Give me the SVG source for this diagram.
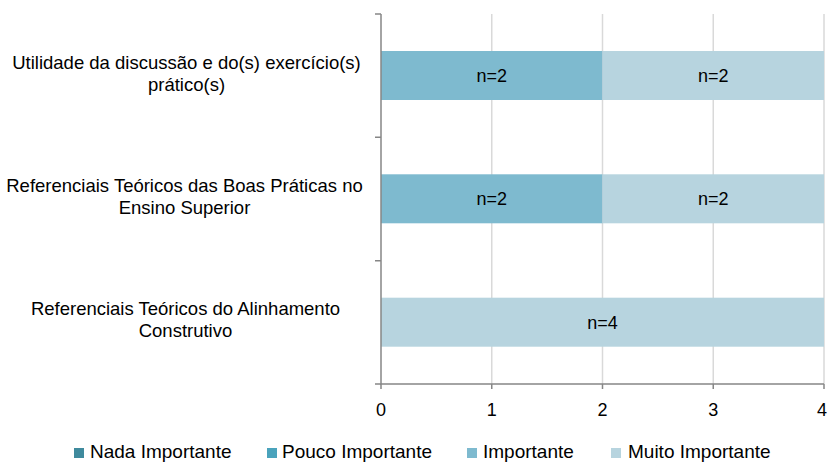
<svg xmlns="http://www.w3.org/2000/svg" width="828" height="462" viewBox="0 0 828 462">
<style>
text{font-family:"Liberation Sans",Arial,sans-serif;font-size:18px;fill:#000}
.c{text-anchor:middle}
.cat{font-size:18.5px}
.leg{font-size:19px}
.grid{stroke:#D9D9D9;stroke-width:1.5}
.axis{stroke:#868686;stroke-width:1.5;fill:none}
.imp{fill:#7EBACF}
.muito{fill:#B7D4DF}
</style>
<rect width="828" height="462" fill="#fff"/>
<g id="gridlines">
<line class="grid" x1="491.75" y1="14" x2="491.75" y2="384"/>
<line class="grid" x1="602.5" y1="14" x2="602.5" y2="384"/>
<line class="grid" x1="713.25" y1="14" x2="713.25" y2="384"/>
<line class="grid" x1="824" y1="14" x2="824" y2="384"/>
</g>
<g id="bars">
<g id="bar-utilidade">
<rect class="imp" x="381" y="51" width="221.5" height="49"/>
<rect class="muito" x="602.5" y="51" width="221.5" height="49"/>
<text class="c" x="491.75" y="82">n=2</text>
<text class="c" x="713.25" y="82">n=2</text>
</g>
<g id="bar-boas-praticas">
<rect class="imp" x="381" y="174.3" width="221.5" height="49"/>
<rect class="muito" x="602.5" y="174.3" width="221.5" height="49"/>
<text class="c" x="491.75" y="205.3">n=2</text>
<text class="c" x="713.25" y="205.3">n=2</text>
</g>
<g id="bar-alinhamento">
<rect class="muito" x="381" y="297.7" width="443" height="49"/>
<text class="c" x="602.5" y="328.7">n=4</text>
</g>
</g>
<g id="axes">
<path class="axis" d="M381,14 V384 H824"/>
<path class="axis" d="M375,14 H381 M375,137.3 H381 M375,260.7 H381 M375,384 H381"/>
<path class="axis" d="M381,384 V389 M491.75,384 V389 M602.5,384 V389 M713.25,384 V389 M824,384 V389"/>
</g>
<g id="y-labels">
<text class="c cat" x="186.5" y="69">Utilidade da discussão e do(s) exercício(s)</text>
<text class="c cat" x="186.5" y="91">prático(s)</text>
<text class="c cat" x="184.5" y="192">Referenciais Teóricos das Boas Práticas no</text>
<text class="c cat" x="184.5" y="214">Ensino Superior</text>
<text class="c cat" x="185.5" y="315">Referenciais Teóricos do Alinhamento</text>
<text class="c cat" x="185.5" y="337">Construtivo</text>
</g>
<g id="x-labels">
<text class="c" x="381" y="416">0</text>
<text class="c" x="491.75" y="416">1</text>
<text class="c" x="602.5" y="416">2</text>
<text class="c" x="713.25" y="416">3</text>
<text class="c" x="822" y="416">4</text>
</g>
<g id="legend">
<rect x="74" y="448" width="10" height="10" fill="#3F8A9D"/>
<text class="leg" x="90" y="458">Nada Importante</text>
<rect x="267" y="448" width="10" height="10" fill="#4AA3BC"/>
<text class="leg" x="282" y="458">Pouco Importante</text>
<rect x="467" y="448" width="10" height="10" fill="#7EBACF"/>
<text class="leg" x="483" y="458">Importante</text>
<rect x="611" y="448" width="10" height="10" fill="#B7D4DF"/>
<text class="leg" x="628" y="458">Muito Importante</text>
</g>
</svg>
